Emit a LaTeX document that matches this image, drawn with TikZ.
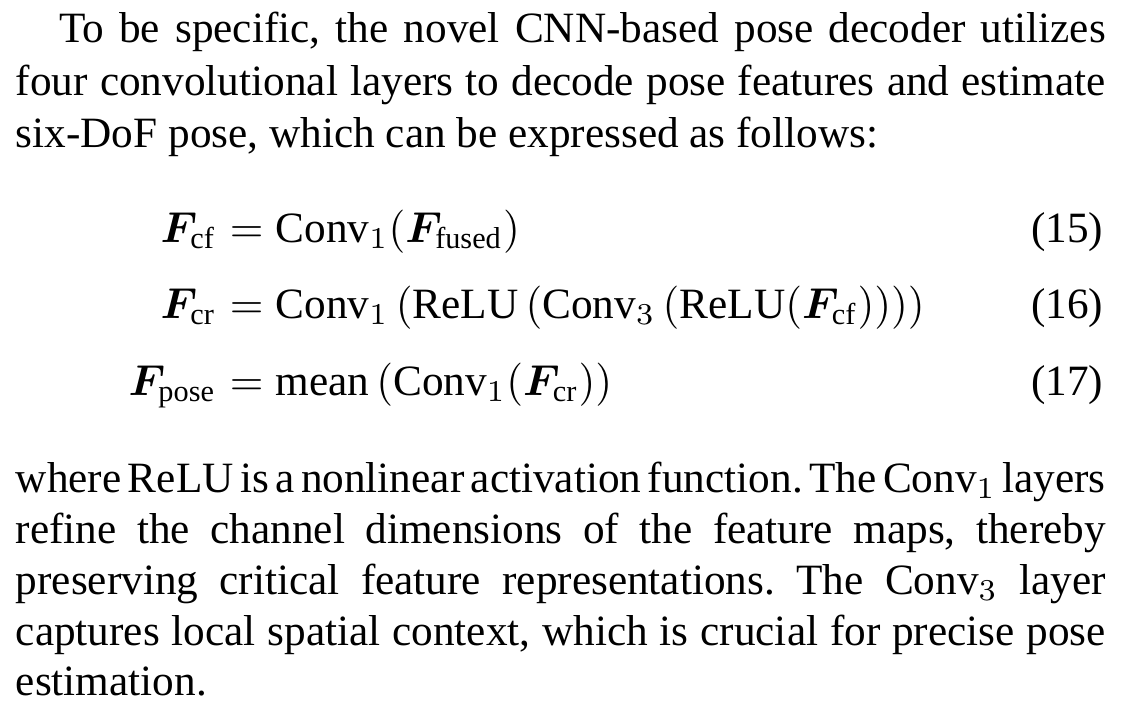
\documentclass[tikz,border=0pt]{standalone}
\usepackage{amsmath}
\usepackage{fontspec}
\setmainfont{Liberation Serif}
\usepackage{bm}
\newlength{\colw}
\setlength{\colw}{252pt}
\tikzset{
  parline/.style={anchor=base west, inner sep=0pt, font=\fontsize{10}{12}\selectfont},
  eqlhs/.style={anchor=base east, inner sep=0pt, font=\fontsize{10}{12}\selectfont},
  eqrhs/.style={anchor=base west, inner sep=0pt, font=\fontsize{10}{12}\selectfont},
  eqnum/.style={anchor=base east, inner sep=0pt, font=\fontsize{10}{12}\selectfont}
}
% full justified line of the paragraph
\newcommand{\fullline}[3]{%
 \node[parline] ({#1}) at (15,{#2}) {\frenchspacing\spaceskip=2.5pt plus 3pt minus 1.3pt\makebox[\colw][s]{#3}};%
}
% last line of a paragraph, left aligned
\newcommand{\shortline}[3]{%
 \node[parline] ({#1}) at (15,{#2}) {#3};%
}
% one numbered equation, split at the equals sign
\newcommand{\numeq}[5]{%
 \node[eqlhs] ({#1l}) at (217,{#2}) {$#3$};%
 \node[eqrhs] ({#1r}) at (217,{#2}) {${}=#4$};%
 \node[eqnum] ({#1n}) at (1104,{#2}) {(#5)};%
}

\begin{document}
\begin{tikzpicture}[x=0.23121pt,y=-0.23121pt]
  \useasboundingbox (0,0) rectangle (1132,710);
  \fullline{p1}{43}{\hspace{1em}To be specific, the novel CNN-based pose decoder utilizes}
  \fullline{p2}{95}{four convolutional layers to decode pose features and estimate}
  \shortline{p3}{147}{six-DoF pose, which can be expressed as follows:}
  \numeq{e1}{242}{\bm{F}_{\mathrm{cf}}}{\mathrm{Conv}_1(\bm{F}_{\mathrm{fused}})}{15}
  \numeq{e2}{318}{\bm{F}_{\mathrm{cr}}}{\mathrm{Conv}_1\left(\mathrm{ReLU}\left(\mathrm{Conv}_3\left(\mathrm{ReLU}(\bm{F}_{\mathrm{cf}})\right)\right)\right)}{16}
  \numeq{e3}{395}{\bm{F}_{\mathrm{pose}}}{\mathrm{mean}\left(\mathrm{Conv}_1(\bm{F}_{\mathrm{cr}})\right)}{17}
  \fullline{p4}{492}{where ReLU is a nonlinear activation function. The Conv$_1$ layers}
  \fullline{p5}{543}{refine the channel dimensions of the feature maps, thereby}
  \fullline{p6}{594}{preserving critical feature representations. The Conv$_3$ layer}
  \fullline{p7}{645}{captures local spatial context, which is crucial for precise pose}
  \shortline{p8}{695}{estimation.}
\end{tikzpicture}
\end{document}
